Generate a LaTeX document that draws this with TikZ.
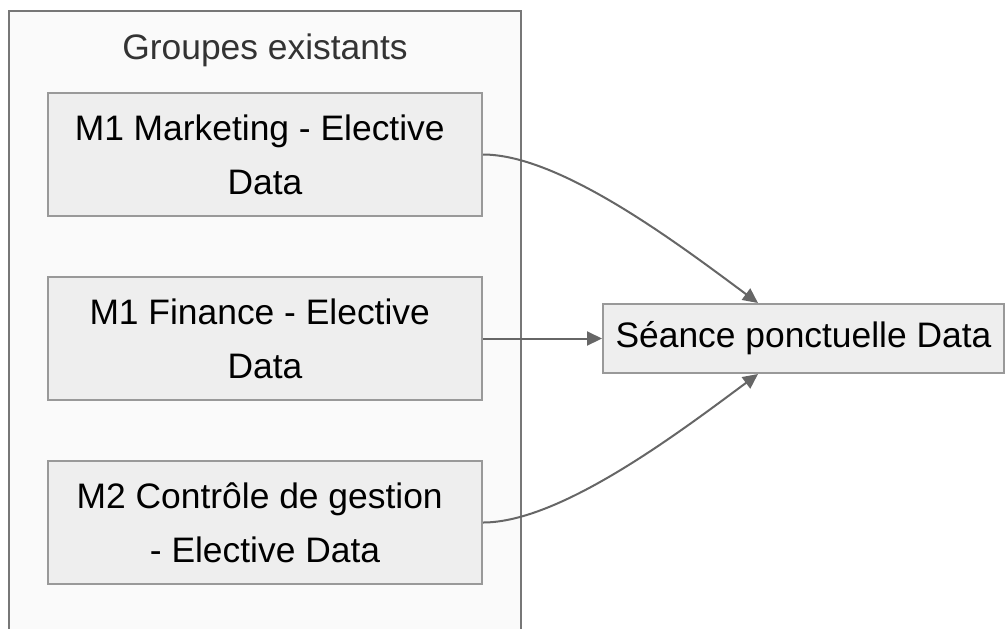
\documentclass[tikz,border=0pt]{standalone}
\usepackage{fontspec}
\setmainfont{Liberation Sans}
\usetikzlibrary{positioning,arrows.meta}
\definecolor{clusterfill}{HTML}{FAFAFA}
\definecolor{clusterline}{HTML}{777777}
\definecolor{boxfill}{HTML}{EEEEEE}
\definecolor{boxline}{HTML}{999999}
\definecolor{edgeline}{HTML}{666666}
\definecolor{titletext}{HTML}{333333}

\begin{document}
\begin{tikzpicture}[x=0.5pt,y=-0.5pt,>={Triangle[length=7.5pt,width=7pt]},
	box/.style={rectangle, draw=boxline, fill=boxfill, line width=1pt, inner sep=0pt, align=center, font=\fontsize{17.7}{27}\selectfont},
	groupbox/.style={box, minimum width=217pt, minimum height=61.5pt},
	arr/.style={->, draw=edgeline, line width=1pt}]
	\useasboundingbox (0,0) rectangle (1005,628);
	\draw [draw=clusterline, fill=clusterfill, line width=1pt] (9,11) rectangle (521,660);
	\node (titre) at (265,50) [text=titletext, font=\fontsize{17.7}{27}\selectfont] {Groupes existants};
	\node (m1) at (265,154.5) [groupbox] {M1 Marketing - Elective\hspace*{0.3em}\\Data};
	\node (m2) [groupbox, below=29.5pt of m1] {M1 Finance - Elective\hspace*{0.3em}\\Data};
	\node (m3) [groupbox, below=29.5pt of m2] {M2 Contrôle de gestion\hspace*{0.3em}\\- Elective Data};
	\node (seance) [box, minimum width=200.5pt, minimum height=34.5pt, right=59.5pt of m2] {Séance ponctuelle Data};
	\draw [arr] (m1.east) .. controls +(78,0) and +(-77,-57) .. ([xshift=78pt]seance.north west);
	\draw [arr] (m2.east) -- (seance.west);
	\draw [arr] (m3.east) .. controls +(78,0) and +(-77,57) .. ([xshift=78pt]seance.south west);
\end{tikzpicture}
\end{document}
